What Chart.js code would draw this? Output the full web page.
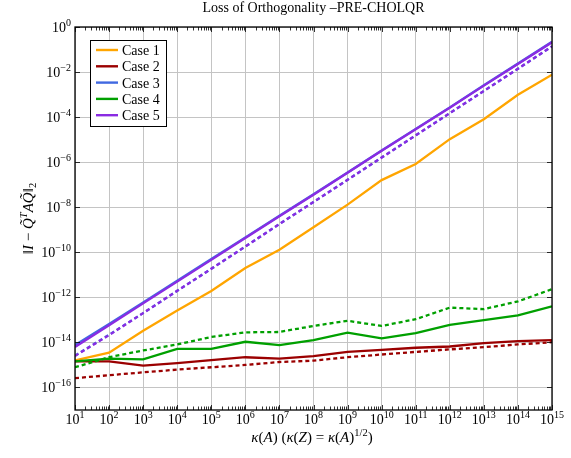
<!DOCTYPE html>
<html>
<head>
<meta charset="utf-8">
<script src="https://cdn.jsdelivr.net/npm/chart.js@4.4.1/dist/chart.umd.min.js"></script>
<style>
  html, body { margin: 0; padding: 0; background: #fff; }
  #wrap { width: 571px; height: 458px; position: relative; }
</style>
</head>
<body>
<div id="wrap"><canvas id="loss"></canvas></div>
<script>
// condition numbers kappa(A)
const kappa = [1e1, 1e2, 1e3, 1e4, 1e5, 1e6, 1e7, 1e8, 1e9, 1e10, 1e11, 1e12, 1e13, 1e14, 1e15];

// solid lines (legend entries)
const case1 = [1.6e-15, 3.5e-15, 3.3e-14, 2.6e-13, 1.9e-12, 2.0e-11, 1.3e-10, 1.3e-9, 1.3e-8, 1.6e-7, 8.3e-7, 1.05e-5, 8.1e-5, 9.8e-4, 7.6e-3];
const case2 = [1.45e-15, 1.45e-15, 9.3e-16, 1.2e-15, 1.65e-15, 2.2e-15, 1.9e-15, 2.45e-15, 3.8e-15, 4.7e-15, 5.8e-15, 6.6e-15, 9.3e-15, 1.15e-14, 1.26e-14];
const case3 = [7.5e-15, 6.5e-14, 6.0e-13, 5.5e-12, 5.0e-11, 4.6e-10, 4.2e-9, 3.8e-8, 3.5e-7, 3.3e-6, 3.0e-5, 2.7e-4, 2.6e-3, 2.4e-2, 2.2e-1];
const case4 = [1.45e-15, 1.9e-15, 1.75e-15, 5.2e-15, 5.2e-15, 1.07e-14, 7.6e-15, 1.26e-14, 2.7e-14, 1.5e-14, 2.6e-14, 6.0e-14, 9.8e-14, 1.6e-13, 4.0e-13];
const case5 = [6.3e-15, 5.8e-14, 5.4e-13, 5.0e-12, 4.6e-11, 4.3e-10, 4.0e-9, 3.6e-8, 3.4e-7, 3.2e-6, 2.9e-5, 2.6e-4, 2.5e-3, 2.3e-2, 2.1e-1];

// dashed lines (no legend entry)
const case2b = [2.6e-16, 3.5e-16, 4.7e-16, 6.2e-16, 7.9e-16, 1.0e-15, 1.35e-15, 1.55e-15, 2.2e-15, 2.9e-15, 3.8e-15, 4.9e-15, 6.2e-15, 8.1e-15, 1.02e-14];
const case3b = [2.6e-15, 2.2e-14, 2.0e-13, 1.95e-12, 1.85e-11, 1.8e-10, 1.8e-9, 1.7e-8, 1.65e-7, 1.6e-6, 1.55e-5, 1.5e-4, 1.45e-3, 1.4e-2, 1.38e-1];
const case4b = [7.9e-16, 2.2e-15, 4.4e-15, 8.1e-15, 1.74e-14, 2.8e-14, 2.9e-14, 5.4e-14, 9.1e-14, 5.4e-14, 1.07e-13, 3.5e-13, 3.0e-13, 6.6e-13, 2.3e-12];
const case5b = [2.5e-15, 2.1e-14, 2.0e-13, 1.95e-12, 1.85e-11, 1.8e-10, 1.8e-9, 1.7e-8, 1.65e-7, 1.6e-6, 1.55e-5, 1.5e-4, 1.45e-3, 1.4e-2, 1.38e-1];

const labels = ['Case 1', 'Case 2', 'Case 3', 'Case 4', 'Case 5'];
const xTickExps = [1, 2, 3, 4, 5, 6, 7, 8, 9, 10, 11, 12, 13, 14, 15];
const yTickExps = [0, -2, -4, -6, -8, -10, -12, -14, -16];

const ORANGE = '#ffa500', RED = '#9b0000', BLUE = '#4169e1', GREEN = '#00a000', PURPLE = '#8a2be2';
const SERIF = '"Liberation Serif", "DejaVu Serif", serif';

function pts(arr) { return kappa.map((k, i) => ({ x: k, y: arr[i] })); }

function line(label, arr, color, dashed, order) {
    return {
        label: label,
        data: pts(arr),
        borderColor: color,
        backgroundColor: color,
        borderWidth: 2.3,
        borderDash: dashed ? [4, 3] : [],
        pointRadius: 0,
        fill: false,
        tension: 0,
        order: order
    };
}

const datasets = [
    line(labels[0], case1, ORANGE, false, 10),
    line(labels[1], case2, RED, false, 9),
    line('', case2b, RED, true, 8),
    line(labels[2], case3, BLUE, false, 7),
    line('', case3b, BLUE, true, 6),
    line(labels[3], case4, GREEN, false, 5),
    line('', case4b, GREEN, true, 4),
    line(labels[4], case5, PURPLE, false, 3),
    line('', case5b, PURPLE, true, 2)
];

// text runs: each with its own font and vertical shift
function runsWidth(ctx, runs) {
    let w = 0;
    runs.forEach(r => { ctx.font = r.f; w += ctx.measureText(r.t).width; });
    return w;
}
function drawRuns(ctx, runs, x, y) {
    runs.forEach(r => {
        ctx.font = r.f;
        ctx.fillText(r.t, x, y + (r.dy || 0));
        x += ctx.measureText(r.t).width;
    });
}

const N = '15px ' + SERIF, I = 'italic 15px ' + SERIF, S = '10.5px ' + SERIF, SI = 'italic 10.5px ' + SERIF;

const decor = {
    id: 'decor',
    afterDraw(chart) {
        const ctx = chart.ctx;
        const a = chart.chartArea;
        const xs = chart.scales.x, ys = chart.scales.y;
        ctx.save();
        ctx.fillStyle = '#000';
        ctx.strokeStyle = '#000';
        ctx.textBaseline = 'alphabetic';
        ctx.textAlign = 'left';

        // minor ticks on x (top and bottom, inside)
        ctx.lineWidth = 0.8;
        ctx.beginPath();
        for (let e = 1; e < 15; e++) {
            for (let m = 2; m <= 9; m++) {
                const px = Math.round(xs.getPixelForValue(m * Math.pow(10, e))) + 0.5;
                ctx.moveTo(px, a.bottom); ctx.lineTo(px, a.bottom - 3.5);
                ctx.moveTo(px, a.top); ctx.lineTo(px, a.top + 3.5);
            }
        }
        // major ticks (inside)
        yTickExps.forEach(e => {
            const py = Math.round(ys.getPixelForValue(Math.pow(10, e))) + 0.5;
            ctx.moveTo(a.left, py); ctx.lineTo(a.left + 5, py);
            ctx.moveTo(a.right, py); ctx.lineTo(a.right - 5, py);
        });
        xTickExps.forEach(e => {
            const px = Math.round(xs.getPixelForValue(Math.pow(10, e))) + 0.5;
            ctx.moveTo(px, a.bottom); ctx.lineTo(px, a.bottom - 5);
            ctx.moveTo(px, a.top); ctx.lineTo(px, a.top + 5);
        });
        ctx.stroke();

        // frame
        ctx.lineWidth = 1.3;
        ctx.strokeRect(a.left, a.top, a.right - a.left, a.bottom - a.top);

        // x tick labels
        const big = '14px ' + SERIF, sup = '10px ' + SERIF;
        xTickExps.forEach(e => {
            const runs = [{ t: '10', f: big }, { t: String(e), f: sup, dy: -6 }];
            const w = runsWidth(ctx, runs);
            const px = xs.getPixelForValue(Math.pow(10, e));
            drawRuns(ctx, runs, px - w / 2, a.bottom + 14);
        });
        // y tick labels
        yTickExps.forEach(e => {
            const runs = [{ t: '10', f: big }, { t: String(e).replace('-', '\u2212'), f: sup, dy: -6 }];
            const w = runsWidth(ctx, runs);
            const py = ys.getPixelForValue(Math.pow(10, e));
            drawRuns(ctx, runs, a.left - 4 - w, py + 5);
        });

        // title
        ctx.font = '14px ' + SERIF;
        ctx.textAlign = 'center';
        ctx.fillText('Loss of Orthogonality \u2013PRE-CHOLQR', (a.left + a.right) / 2, 11.5);
        ctx.textAlign = 'left';

        // x axis title
        const xt = [
            { t: '\u03ba', f: I }, { t: '(', f: N }, { t: 'A', f: I }, { t: ') (', f: N },
            { t: '\u03ba', f: I }, { t: '(', f: N }, { t: 'Z', f: I }, { t: ') = ', f: N },
            { t: '\u03ba', f: I }, { t: '(', f: N }, { t: 'A', f: I }, { t: ')', f: N },
            { t: '1/2', f: S, dy: -6 }, { t: ')', f: N }
        ];
        const xw = runsWidth(ctx, xt);
        drawRuns(ctx, xt, 312 - xw / 2, 442);

        // y axis title
        const yt = [
            { t: '\u2016', f: N }, { t: 'I', f: I }, { t: ' \u2212 ', f: N },
            { t: 'Q\u0303', f: I }, { t: 'T', f: SI, dy: -6 }, { t: 'A', f: I },
            { t: 'Q\u0303', f: I }, { t: '\u2016', f: N }, { t: '2', f: S, dy: 3 }
        ];
        ctx.save();
        ctx.translate(33, (a.top + a.bottom) / 2);
        ctx.rotate(-Math.PI / 2);
        const yw = runsWidth(ctx, yt);
        drawRuns(ctx, yt, -yw / 2, 0);
        ctx.restore();

        // legend box in the plot corner
        const lx = a.left + 15, ly = a.top + 13, lw = 76, lh = 86;
        ctx.fillStyle = '#fff';
        ctx.fillRect(lx, ly, lw, lh);
        ctx.lineWidth = 1;
        ctx.strokeStyle = '#000';
        ctx.strokeRect(lx + 0.5, ly + 0.5, lw, lh);
        const solid = chart.data.datasets.filter(d => d.label);
        ctx.font = '14px ' + SERIF;
        solid.forEach((d, i) => {
            const yy = ly + 10 + i * 16.3;
            ctx.strokeStyle = d.borderColor;
            ctx.lineWidth = 2.4;
            ctx.beginPath();
            ctx.moveTo(lx + 6, yy); ctx.lineTo(lx + 28, yy);
            ctx.stroke();
            ctx.fillStyle = '#000';
            ctx.fillText(d.label, lx + 32, yy + 5);
        });
        ctx.restore();
    }
};

new Chart(document.getElementById('loss'), {
    type: 'line',
    data: { datasets: datasets },
    options: {
        responsive: true,
        maintainAspectRatio: false,
        animation: false,
        layout: { padding: { top: 27, right: 19, left: 0, bottom: 0 } },
        plugins: { legend: { display: false }, title: { display: false }, tooltip: { enabled: false } },
        scales: {
            x: {
                type: 'logarithmic',
                min: 1e1,
                max: 1e15,
                afterBuildTicks: s => { s.ticks = xTickExps.map(e => ({ value: Math.pow(10, e) })); },
                afterFit: s => { s.height = 48; },
                ticks: { display: false },
                grid: { color: '#c4c4c4', lineWidth: 1, drawTicks: false },
                border: { display: false }
            },
            y: {
                type: 'logarithmic',
                min: 1e-17,
                max: 1,
                afterBuildTicks: s => { s.ticks = yTickExps.map(e => ({ value: Math.pow(10, e) })); },
                afterFit: s => { s.width = 75; },
                ticks: { display: false },
                grid: { color: '#c4c4c4', lineWidth: 1, drawTicks: false },
                border: { display: false }
            }
        }
    },
    plugins: [decor]
});
</script>
</body>
</html>
